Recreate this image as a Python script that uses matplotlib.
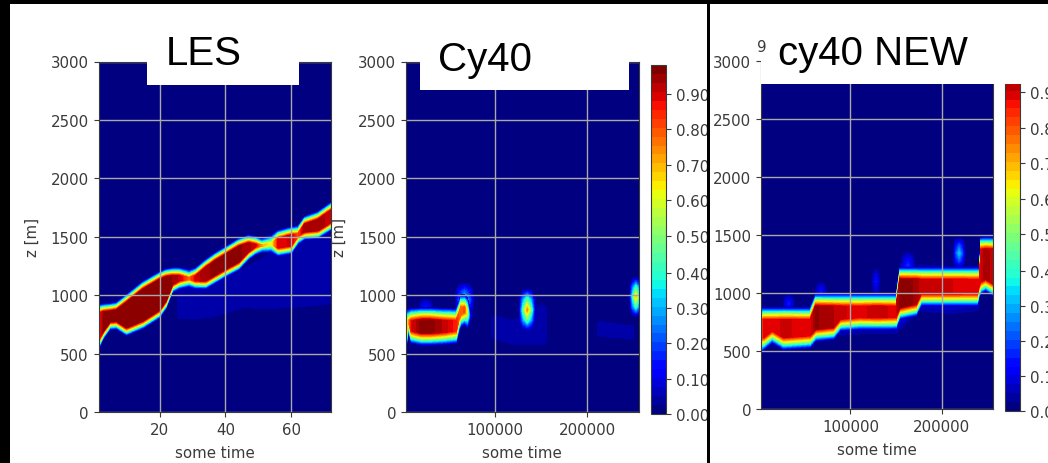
import numpy as np
import matplotlib
matplotlib.use("Agg")
import matplotlib.pyplot as plt
from matplotlib.colors import Normalize
from matplotlib.cm import ScalarMappable
from matplotlib.patches import Rectangle

# cloud layer: time, base [m], top [m], peak fraction
les_t = [1.5, 3, 5, 7, 10, 15, 20, 22, 24, 26, 29, 31, 34, 37, 40, 44, 47, 49, 51, 54, 56, 60, 62, 64, 68, 72]
les_base = [570, 660, 740, 745, 690, 750, 840, 920, 1060, 1090, 1105, 1090, 1090, 1140, 1190, 1250, 1340, 1380, 1400, 1400, 1370, 1390, 1470, 1510, 1520, 1590]
les_top = [885, 890, 895, 905, 970, 1083, 1165, 1190, 1200, 1200, 1180, 1200, 1270, 1330, 1380, 1450, 1480, 1470, 1450, 1480, 1520, 1550, 1560, 1640, 1680, 1760]
les_peak = [0.8, 0.98, 0.99, 0.99, 0.99, 0.99, 0.99, 0.98, 0.96, 0.93, 0.78, 0.92, 0.96, 0.97, 0.98, 0.97, 0.95, 0.92, 0.72, 0.62, 0.9, 0.92, 0.82, 0.96, 0.95, 0.93]

cy40_t = [3400, 6000, 9000, 20000, 30000, 45000, 58000, 61000, 63000, 67000, 70000, 73000, 78000, 256000]
cy40_base = [570, 720, 640, 625, 625, 630, 640, 740, 780, 800, 770, 800, 850, 850]
cy40_top = [830, 830, 835, 840, 840, 835, 835, 900, 950, 950, 930, 850, 860, 860]
cy40_peak = [0.6, 0.7, 0.9, 0.98, 0.98, 0.93, 0.87, 0.8, 0.8, 0.82, 0.55, 0.1, 0, 0]

new_t = [2300, 5500, 14500, 27000, 56000, 62000, 81500, 89000, 110000, 130000, 150000, 154000, 172000, 177500, 200000, 239000, 241000, 242600, 248000, 256000]
new_base = [540, 563, 621, 563, 578, 636, 650, 722, 735, 735, 737, 823, 853, 939, 939, 939, 1011, 1040, 1069, 1026]
new_top = [823, 823, 823, 823, 823, 939, 939, 939, 939, 939, 939, 1170, 1170, 1170, 1170, 1170, 1170, 1430, 1430, 1430]
new_peak = [0.75, 0.9, 0.9, 0.92, 0.9, 0.97, 0.94, 0.92, 0.9, 0.93, 0.9, 0.98, 0.96, 0.92, 0.92, 0.9, 0.9, 0.9, 0.96, 0.92]

# faint layer under the cloud
les_haze_t = [22, 26, 35, 45, 55, 65, 72]
les_haze_base = [770, 770, 780, 860, 860, 880, 900]
les_haze_top = [900, 1080, 1100, 1250, 1400, 1500, 1560]
les_haze_peak = [0, 0.03, 0.03, 0.028, 0.03, 0.03, 0.03]
cy40_haze_t = [75000, 100000, 120000, 150000, 190000, 215000, 250000]
cy40_haze_base = [620, 600, 560, 550, 600, 620, 600]
cy40_haze_top = [850, 850, 800, 950, 850, 800, 760]
cy40_haze_peak = [0, 0.03, 0.033, 0.03, 0, 0.03, 0.03]
new_haze_t = [80000, 110000, 150000, 175000, 210000, 240000]
new_haze_base = [640, 650, 660, 860, 830, 860]
new_haze_top = [1000, 980, 960, 1230, 1220, 1220]
new_haze_peak = [0.06, 0.05, 0.06, 0.07, 0.06, 0.06]

# isolated blobs: time, height, peak, half width, half height
cy40_blobs = [(135000, 875, 0.75, 9000, 180), (253000, 985, 0.68, 7000, 170),
              (67000, 960, 0.35, 11000, 150), (25000, 890, 0.15, 9000, 90)]
new_blobs = [(128000, 1098, 0.13, 5000, 130), (219000, 1344, 0.32, 7000, 140),
             (163000, 1240, 0.16, 9000, 130), (68000, 1010, 0.13, 7000, 100),
             (32600, 910, 0.14, 7000, 90)]

cbar_ticks = [0.0, 0.1, 0.2, 0.3, 0.4, 0.505, 0.606, 0.707, 0.808, 0.909]
cbar_labels = ["0.00", "0.10", "0.20", "0.30", "0.40", "0.51", "0.61", "0.71", "0.81", "0.91"]

levels = np.linspace(0, 0.99, 40)
norm = Normalize(0, 0.99)
W, H = 1048, 464
GREY = "#3a3a3a"
plt.rcParams["font.size"] = 10.8
plt.rcParams["text.color"] = GREY
plt.rcParams["xtick.labelcolor"] = GREY
plt.rcParams["ytick.labelcolor"] = GREY
plt.rcParams["xtick.color"] = GREY
plt.rcParams["ytick.color"] = GREY
plt.rcParams["axes.edgecolor"] = GREY
plt.rcParams["axes.labelcolor"] = GREY

fig = plt.figure(figsize=(W / 100, H / 100), dpi=100, facecolor="white")


def px_axes(x0, y0, x1, y1, **kw):
    # pixel box, y measured from the top of the image
    return fig.add_axes([x0 / W, 1 - y1 / H, (x1 - x0) / W, (y1 - y0) / H], **kw)


def draw_band(ax, t, base, top, peak, d=55, e=55):
    t, base, top, peak = map(np.array, (t, base, top, peak))
    e = np.minimum(e, (top - base) * 0.4)
    Y = np.array([0 * base, base - d, base, base + e, top - e, top, top + d, 0 * base + 3000], dtype=float)
    Z = np.array([0 * peak, 0 * peak, 0.55 * peak, peak, peak, 0.55 * peak, 0 * peak, 0 * peak], dtype=float)
    X = np.tile(t, (8, 1))
    ax.contourf(X, Y, Z, levels=levels[1:], cmap="jet", norm=norm, zorder=1)


def draw_blob(ax, t, z, peak, w, h):
    xs = [t - w, t - w / 2, t, t + w / 2, t + w]
    ys = [z - h, z - h / 2, z, z + h / 2, z + h]
    Z = np.array([[0, 0, 0, 0, 0],
                  [0, 0.35, 0.6, 0.35, 0],
                  [0, 0.6, 1, 0.6, 0],
                  [0, 0.35, 0.6, 0.35, 0],
                  [0, 0, 0, 0, 0]]) * peak
    ax.contourf(xs, ys, Z, levels=levels[1:], cmap="jet", norm=norm, zorder=1)


def panel(box, xlim, xticks, xlabel_y):
    ax = px_axes(*box, facecolor=plt.get_cmap("jet")(0))
    ax.set_xlim(*xlim)
    ax.set_ylim(0, 3000)
    ax.set_xticks(xticks)
    ax.set_yticks([0, 500, 1000, 1500, 2000, 2500, 3000])
    ax.grid(True, color="#a8a8a8", lw=1.0)
    ax.set_xlabel("some time")
    ax.xaxis.set_label_coords(0.5, xlabel_y)
    return ax


def colorbar(box):
    cax = px_axes(*box)
    cb = fig.colorbar(ScalarMappable(norm=norm, cmap=plt.get_cmap("jet").resampled(39)), cax=cax)
    cb.set_ticks(cbar_ticks, labels=cbar_labels)
    cb.outline.set_edgecolor(GREY)
    return cax


# LES
ax1 = panel((98.5, 62.5, 331, 413), (1.5, 72), [20, 40, 60], -0.094)
draw_band(ax1, les_haze_t, les_haze_base, les_haze_top, les_haze_peak, d=40, e=40)
draw_band(ax1, les_t, les_base, les_top, les_peak, d=38, e=35)
ax1.set_ylabel("z [m]")
ax1.yaxis.set_label_coords((40 - 98.5) / 232.5, 0.5)

# Cy40
ax2 = panel((406, 62.5, 638.7, 413), (3400, 256000), [100000, 200000], -0.094)
draw_band(ax2, cy40_haze_t, cy40_haze_base, cy40_haze_top, cy40_haze_peak, d=40, e=40)
for blob in cy40_blobs:
    draw_blob(ax2, *blob)
draw_band(ax2, cy40_t, cy40_base, cy40_top, cy40_peak)
ax2.set_ylabel("z [m]")
ax2.yaxis.set_label_coords((347 - 406) / 232.7, 0.5)
colorbar((651, 66, 666, 415))

# white sheet and dividing line over the right part of the first picture
over1 = fig.add_axes([0, 0, 1, 1], zorder=5)
over1.set_xlim(0, W)
over1.set_ylim(H, 0)
over1.axis("off")
over1.add_patch(Rectangle((708, 0), W - 708, H, color="white", lw=0))

# cy40 NEW
ax3 = panel((761, 62, 993, 410), (2300, 256000), [100000, 200000], -0.094)
ax3.set_zorder(6)
draw_band(ax3, new_haze_t, new_haze_base, new_haze_top, new_haze_peak, d=40, e=40)
for blob in new_blobs:
    draw_blob(ax3, *blob)
draw_band(ax3, new_t, new_base, new_top, new_peak)
cax3 = colorbar((1005, 65, 1020, 412))
cax3.set_zorder(6)

over2 = fig.add_axes([0, 0, 1, 1], zorder=7)
over2.set_xlim(0, W)
over2.set_ylim(H, 0)
over2.axis("off")
over2.text(762, 47, "9", fontsize=10.8, color=GREY, ha="center", va="center")
for x, y, w, h in [(147, 40, 152, 46), (420, 40, 209, 51), (761, 5, 287, 80)]:
    over2.add_patch(Rectangle((x, y), w, h, color="white", lw=0))
for x, y, w, h in [(0, 0, W, 5), (0, 0, 10, H), (707, 0, 3, H)]:
    over2.add_patch(Rectangle((x, y), w, h, color="black", lw=0))
sans = ["Liberation Sans", "DejaVu Sans"]
over2.text(204, 65, "LES", fontsize=29, color="black", family=sans, ha="center", va="baseline")
over2.text(485, 71, "Cy40", fontsize=29, color="black", family=sans, ha="center", va="baseline")
over2.text(873, 65, "cy40 NEW", fontsize=29, color="black", family=sans, ha="center", va="baseline")

fig.savefig("out.png", dpi=100)
